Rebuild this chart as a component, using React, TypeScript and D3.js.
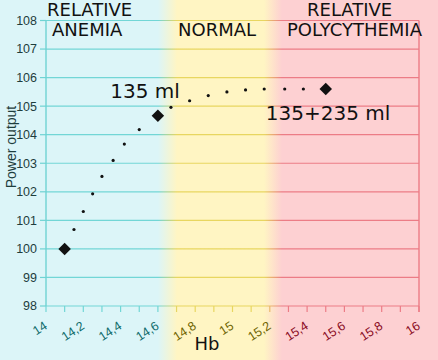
import React from "react";
import * as d3 from "d3";

// Hb (g/dl) vs power output
const curveHb = [14.15, 14.2, 14.25, 14.3, 14.36, 14.42, 14.5, 14.67, 14.77, 14.87, 14.97, 15.07, 15.17, 15.28, 15.38];
const curvePower = [100.68, 101.31, 101.93, 102.54, 103.1, 103.67, 104.18, 104.96, 105.19, 105.37, 105.5, 105.57, 105.6, 105.6, 105.6];

const keyHb = [14.1, 14.6, 15.5];
const keyPower = [100, 104.66, 105.6];
const keyLabels = ["", "135 ml", "135+235 ml"];

const yTicks = [98, 99, 100, 101, 102, 103, 104, 105, 106, 107, 108];
const xLabelTicks = [14, 14.2, 14.4, 14.6, 14.8, 15, 15.2, 15.4, 15.6, 15.8, 16];

const W = 438;
const H = 360;

const x = d3.scaleLinear().domain([14, 16]).range([46, 419]);
const y = d3.scaleLinear().domain([98, 108]).range([306, 20.5]);

const minorTicks = d3.range(0, 21).map((i) => 14 + i * 0.1);

const labelColor = (v: number) =>
	v < 14.7 ? "#0e6b6b" : v < 15.3 ? "#6e6400" : "#8a0a22";

export default function App() {
	// square turned 45 degrees
	const diamond = d3.symbol().type(d3.symbolSquare).size(78)();
	const sans = "'Liberation Sans', Arial, sans-serif";
	const dv = "'DejaVu Sans', sans-serif";
	return (
		<svg
			width={W}
			height={H}
			style={{ position: "absolute", left: 0, top: 0 }}
		>
			<defs>
				<linearGradient id="bg" gradientUnits="userSpaceOnUse" x1={0} x2={W} y1={0} y2={0}>
					<stop offset={0} stopColor="#dcf5f8" />
					<stop offset={158 / W} stopColor="#dcf5f8" />
					<stop offset={177 / W} stopColor="#fff5c3" />
					<stop offset={264 / W} stopColor="#fff5c3" />
					<stop offset={282 / W} stopColor="#fdd0d2" />
					<stop offset={1} stopColor="#fdd0d2" />
				</linearGradient>
				<linearGradient id="grid" gradientUnits="userSpaceOnUse" x1={0} x2={W} y1={0} y2={0}>
					<stop offset={0} stopColor="#72d6d6" />
					<stop offset={158 / W} stopColor="#72d6d6" />
					<stop offset={177 / W} stopColor="#e8d660" />
					<stop offset={264 / W} stopColor="#e8d660" />
					<stop offset={282 / W} stopColor="#ec7c86" />
					<stop offset={1} stopColor="#ec7c86" />
				</linearGradient>
			</defs>
			<rect x={0} y={0} width={W} height={H} fill="url(#bg)" />

			{/* grid lines */}
			{yTicks.map((t) => (
				<line key={t} x1={x(14)} x2={x(16)} y1={y(t)} y2={y(t)} stroke="url(#grid)" strokeWidth={1.2} />
			))}
			<line x1={x(14)} x2={x(14)} y1={y(108)} y2={y(98)} stroke="#6fd3d3" strokeWidth={1.4} />
			<line x1={x(16)} x2={x(16)} y1={y(108)} y2={y(98) + 6} stroke="#ec7c86" strokeWidth={1.4} />

			{/* y ticks */}
			{yTicks.map((t) => (
				<g key={t}>
					<line x1={x(14) - 6} x2={x(14)} y1={y(t)} y2={y(t)} stroke="#6fd3d3" strokeWidth={1.2} />
					<text x={37} y={y(t)} dy="0.35em" textAnchor="end" fontFamily={sans} fontSize={12.5} fill="#1e3d3d">
						{t}
					</text>
				</g>
			))}

			{/* x ticks */}
			{minorTicks.map((t, i) => (
				<line key={i} x1={x(t)} x2={x(t)} y1={y(98)} y2={y(98) + 6} stroke="url(#grid)" strokeWidth={1.2} />
			))}
			{xLabelTicks.map((t) => (
				<text
					key={t}
					transform={`translate(${x(t) + 2},${y(98) + 22}) rotate(-33)`}
					textAnchor="end"
					fontFamily={sans}
					fontSize={12.5}
					fill={labelColor(t)}
				>
					{String(Math.round(t * 10) / 10).replace(".", ",")}
				</text>
			))}

			{/* axis titles */}
			<text transform="translate(16,147) rotate(-90)" textAnchor="middle" fontFamily={sans} fontSize={14} fill="#1e3d3d">
				Power output
			</text>
			<text x={207} y={350} textAnchor="middle" fontFamily={dv} fontSize={18} fill="#111">
				Hb
			</text>

			{/* region headers */}
			<g fontFamily={dv} fontSize={18} fill="#111">
				<text x={47} y={16}>RELATIVE</text>
				<text x={52} y={36}>ANEMIA</text>
				<text x={178} y={36}>NORMAL</text>
				<text x={307} y={16}>RELATIVE</text>
				<text x={287} y={36}>POLYCYTHEMIA</text>
			</g>

			{/* curve dots */}
			{curveHb.map((h, i) => (
				<circle key={i} cx={x(h)} cy={y(curvePower[i])} r={1.6} fill="#111" />
			))}

			{/* key points */}
			{keyHb.map((h, i) => (
				<path key={i} d={diamond ?? ""} transform={`translate(${x(h)},${y(keyPower[i])}) rotate(45)`} fill="#111" />
			))}
			<text x={x(keyHb[1]) + 22} y={y(keyPower[1]) - 18} textAnchor="end" fontFamily={dv} fontSize={20} fill="#111">
				{keyLabels[1]}
			</text>
			<text x={x(keyHb[2]) - 60} y={y(keyPower[2]) + 31} fontFamily={dv} fontSize={20} fill="#111">
				{keyLabels[2]}
			</text>
		</svg>
	);
}
